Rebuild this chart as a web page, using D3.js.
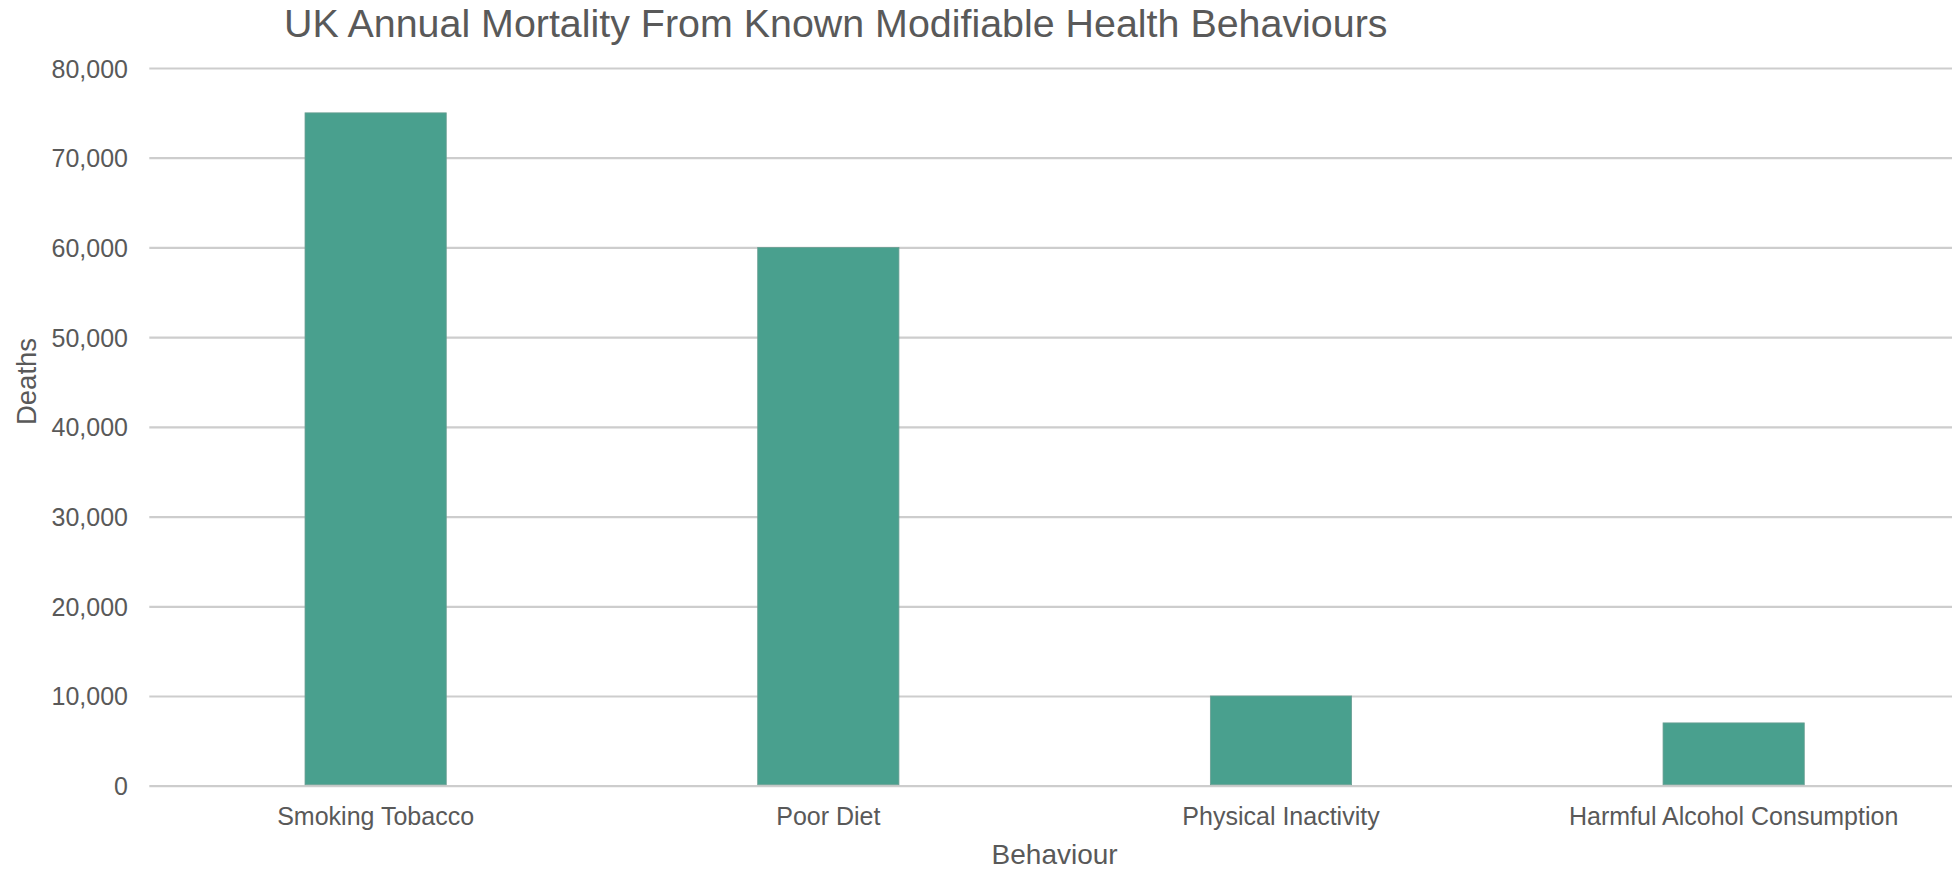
<!DOCTYPE html>
<html>
<head>
<meta charset="utf-8">
<script src="https://cdn.jsdelivr.net/npm/d3@7"></script>
<style>
  html, body { margin: 0; padding: 0; background: #ffffff; }
  svg { display: block; }
  text { font-family: "Liberation Sans", Arial, sans-serif; fill: #595959; }
</style>
</head>
<body>
<svg id="chart" width="1952" height="870"></svg>
<script>
const categories = ["Smoking Tobacco", "Poor Diet", "Physical Inactivity", "Harmful Alcohol Consumption"];
const deaths = [75000, 60000, 10000, 7000];
const yTicks = [0, 10000, 20000, 30000, 40000, 50000, 60000, 70000, 80000];
const chartTitle = "UK Annual Mortality From Known Modifiable Health Behaviours";
const xTitle = "Behaviour";
const yTitle = "Deaths";

const svg = d3.select("#chart");
const plot = { left: 149.3, right: 1960, top: 68, bottom: 785.7 };

const x = d3.scaleBand()
  .domain(categories)
  .range([plot.left, plot.right])
  .paddingInner(0.688)
  .paddingOuter(0.344);

const y = d3.scaleLinear()
  .domain([0, 80000])
  .range([plot.bottom, plot.top]);

// gridlines + y tick labels
const yAxis = d3.axisLeft(y)
  .tickValues(yTicks)
  .tickFormat(d3.format(","))
  .tickSize(-(plot.right - plot.left))
  .tickPadding(21.3);

const gy = svg.append("g")
  .attr("transform", `translate(${plot.left},0)`)
  .call(yAxis);
gy.select(".domain").remove();
gy.selectAll(".tick line")
  .attr("stroke", "#cdcdcd")
  .attr("stroke-width", 2.2);
gy.selectAll(".tick text")
  .attr("dy", "0.36em")
  .style("font-size", "25px")
  .style("font-family", '"Liberation Sans", Arial, sans-serif')
  .attr("fill", "#595959");

// bars
svg.append("g")
  .selectAll("rect")
  .data(categories.map((c, i) => ({ c, v: deaths[i] })))
  .join("rect")
  .attr("x", d => x(d.c))
  .attr("width", x.bandwidth())
  .attr("y", d => y(d.v))
  .attr("height", d => y(0) - y(d.v) - 1)
  .attr("fill", "#49a08e")
  .attr("stroke", "#6b9e93")
  .attr("stroke-width", 0.8);

// x axis labels
const xAxis = d3.axisBottom(x).tickSize(0);
const gx = svg.append("g")
  .attr("transform", `translate(0,${plot.bottom})`)
  .call(xAxis);
gx.select(".domain").remove();
gx.selectAll(".tick text")
  .attr("y", 825 - plot.bottom)
  .attr("dy", 0)
  .style("font-size", "25px")
  .style("font-family", '"Liberation Sans", Arial, sans-serif')
  .attr("fill", "#595959");

// title
svg.append("text")
  .attr("x", 284)
  .attr("y", 37)
  .style("font-size", "39.4px")
  .text(chartTitle);

// x axis title
svg.append("text")
  .attr("x", (plot.left + plot.right) / 2)
  .attr("y", 864)
  .attr("text-anchor", "middle")
  .style("font-size", "28px")
  .text(xTitle);

// y axis title
svg.append("text")
  .attr("transform", `translate(35.5,381.5) rotate(-90)`)
  .attr("text-anchor", "middle")
  .style("font-size", "27.5px")
  .text(yTitle);
</script>
</body>
</html>
